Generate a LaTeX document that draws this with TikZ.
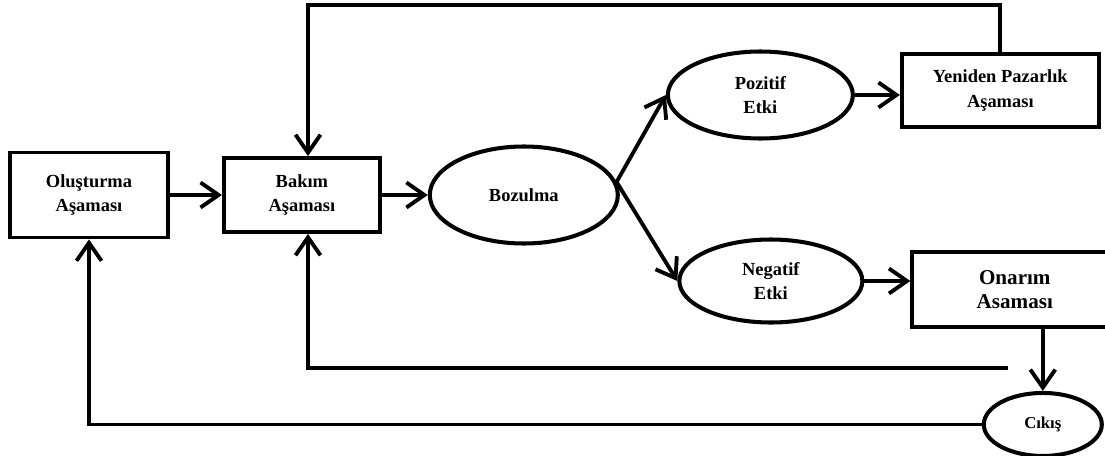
\documentclass[tikz,border=0pt]{standalone}
\usepackage{fontspec}
\setmainfont{Liberation Serif}
\usetikzlibrary{arrows.meta,positioning,shapes.geometric}

\begin{document}
\begin{tikzpicture}[
node distance=1cm,
box/.style={draw, line width=2.2pt, align=center, font=\fontsize{10.5}{14}\selectfont\bfseries, inner sep=2pt},
oval/.style={ellipse, draw, line width=2.3pt, align=center, font=\fontsize{10.5}{14}\selectfont\bfseries, inner sep=0pt},
arr/.style={-{Straight Barb[length=3.6mm,width=5mm]}, line width=2.2pt}
]
\useasboundingbox (0,0) rectangle (22.1,-9.12);
\node[box, minimum width=3.16cm, minimum height=1.70cm] (olus) at (1.78,-3.90) {Oluşturma\\Aşaması};
\node[box, right=1.04cm of olus, minimum width=3.12cm, minimum height=1.48cm] (bakim) {Bakım\\Aşaması};
\node[oval, right=0.92cm of bakim, minimum width=3.76cm, minimum height=1.94cm] (bozulma) {Bozulma};
\node[oval, right=0.92cm of bozulma, yshift=2.0cm, minimum width=3.70cm, minimum height=1.74cm] (pozitif) {Pozitif\\Etki};
\node[oval, right=1.15cm of bozulma, yshift=-1.72cm, minimum width=3.66cm, minimum height=1.66cm] (negatif) {Negatif\\Etki};
\node[box, right=0.9cm of pozitif, yshift=0.09cm, minimum width=3.94cm, minimum height=1.46cm] (yeniden) {Yeniden Pazarlık\\Aşaması};
\node[box, right=0.92cm of negatif, yshift=-0.17cm, minimum width=4.1cm, minimum height=1.50cm, font=\fontsize{12}{13.5}\selectfont\bfseries] (onarim) {Onarım\\Asaması};
\node[oval, below=1.24cm of onarim, xshift=0.56cm, minimum width=2.36cm, minimum height=1.26cm, font=\fontsize{9.5}{11}\selectfont\bfseries] (cikis) {Cıkış};
% feedback lines
\coordinate (toprow) at (6.16,-0.10);
\coordinate (repend) at (20.16,-7.36);
\draw[arr] (olus) -- (bakim);
\draw[arr] (bakim) -- (bozulma);
\draw[arr] (bozulma.8) -- (pozitif.west);
\draw[arr] (bozulma.8) -- (negatif.west);
\draw[arr] (pozitif.east) -- (pozitif.east -| yeniden.west);
\draw[arr] (negatif.east) -- (negatif.east -| onarim.west);
\draw[arr] (yeniden.north) |- (toprow) -- (toprow |- bakim.north);
\draw[arr] (repend) -| (toprow |- bakim.south);
\draw[arr] (cikis.north |- onarim.south) -- (cikis.north);
\draw[arr] (cikis.west) -| (olus.south);
\end{tikzpicture}
\end{document}
